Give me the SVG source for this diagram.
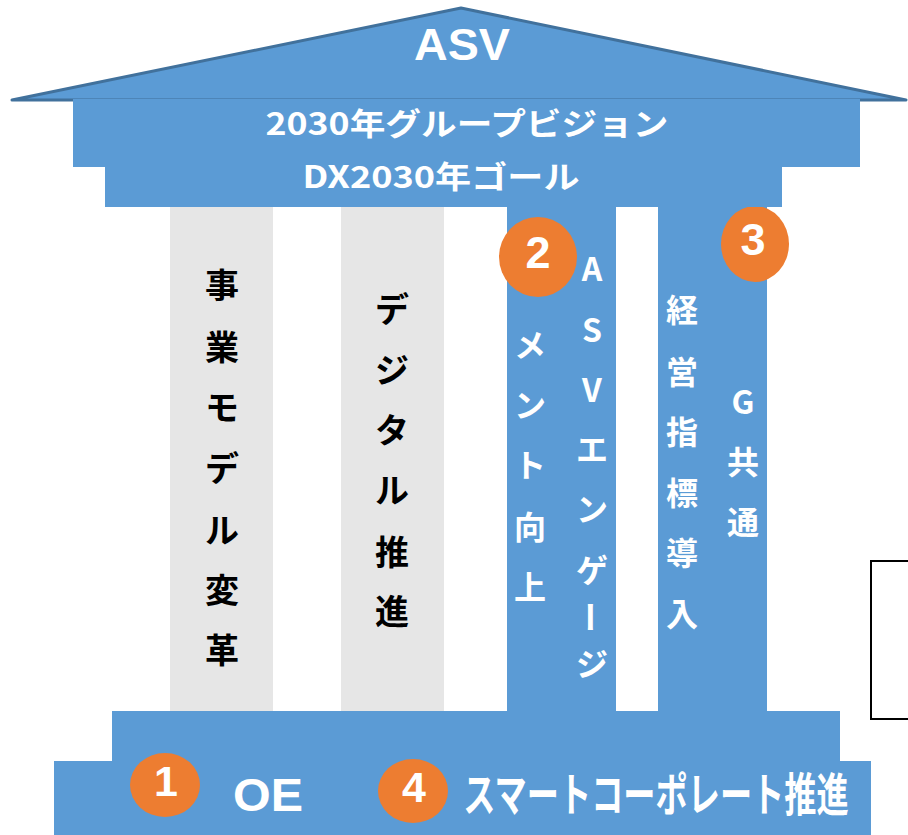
<svg xmlns="http://www.w3.org/2000/svg" width="908" height="835" viewBox="0 0 908 835">
<style>
.blue{fill:#5B9BD5}
.gray{fill:#E6E6E6}
.org{fill:#ED7D31}
.jp{font-family:"Noto Sans CJK JP","Noto Sans",sans-serif;font-weight:bold}
.lat{font-family:"Liberation Sans","Noto Sans",sans-serif;font-weight:bold}
.w{fill:#FFFFFF}
.k{fill:#000000}
.v{text-anchor:middle;dominant-baseline:central}
.c{text-anchor:middle}
</style>
<rect width="908" height="835" fill="#FFFFFF"/>
<g id="roof">
<polygon points="12,100 461,8 906,100" class="blue" stroke="#41719C" stroke-width="3" stroke-linejoin="round"/>
</g>
<g id="pillar1">
<rect x="170" y="205" width="103" height="510" class="gray"/>
<g class="jp k v" font-size="34">
<text x="222" y="283">事</text><text x="222" y="345">業</text><text x="222" y="405">モ</text><text x="222" y="466">デ</text><text x="222" y="528">ル</text><text x="222" y="588">変</text><text x="222" y="648">革</text>
</g>
</g>
<g id="pillar2">
<rect x="341" y="205" width="103" height="510" class="gray"/>
<g class="jp k v" font-size="34">
<text x="392" y="307">デ</text><text x="392" y="368">ジ</text><text x="392" y="428">タ</text><text x="392" y="488">ル</text><text x="392" y="550">推</text><text x="392" y="609">進</text>
</g>
</g>
<g id="pillar3">
<rect x="507" y="205" width="109" height="510" class="blue"/>
<g class="jp w v" font-size="32">
<text x="592" y="267">A</text><text x="592" y="328">S</text><text x="592" y="388">V</text><text x="592" y="447">エ</text><text x="592" y="507">ン</text><text x="592" y="568">ゲ</text><text transform="translate(592,617) rotate(90)">ー</text><text x="592" y="662">ジ</text>
<text x="530" y="343">メ</text><text x="530" y="403">ン</text><text x="530" y="463">ト</text><text x="530" y="525">向</text><text x="530" y="585">上</text>
</g>
</g>
<g id="pillar4">
<rect x="658" y="205" width="109" height="510" class="blue"/>
<g class="jp w v" font-size="32">
<text x="682" y="308">経</text><text x="682" y="370">営</text><text x="682" y="430">指</text><text x="682" y="491">標</text><text x="682" y="551">導</text><text x="682" y="612">入</text>
<text x="743" y="400">G</text><text x="743" y="460">共</text><text x="743" y="520">通</text>
</g>
</g>
<g id="badge3">
<ellipse cx="755" cy="244" rx="34" ry="38" class="org"/>
</g>
<g id="top">
<rect x="73" y="99" width="787" height="68" class="blue"/>
<rect x="105" y="166" width="677" height="41" class="blue"/>
<text x="462" y="60" class="lat w c" font-size="44" textLength="96" lengthAdjust="spacingAndGlyphs">ASV</text>
<text x="467" y="135" class="jp w c" font-size="31" textLength="403" lengthAdjust="spacingAndGlyphs">2030年グループビジョン</text>
<text x="441" y="188" class="jp w c" font-size="31" textLength="277" lengthAdjust="spacingAndGlyphs">DX2030年ゴール</text>
</g>
<g id="badge3-label">
<text x="753" y="255" class="lat w c" font-size="45">3</text>
</g>
<g id="badge2">
<ellipse cx="538" cy="257" rx="39" ry="40" class="org"/>
<text x="538" y="268" class="lat w c" font-size="45">2</text>
</g>
<g id="base">
<rect x="112" y="711" width="728" height="51" class="blue"/>
<rect x="54" y="761" width="817" height="74" class="blue"/>
<text x="268" y="811" class="lat w c" font-size="46" textLength="70" lengthAdjust="spacingAndGlyphs">OE</text>
<text transform="translate(656,811) scale(0.7,1)" class="jp w c" font-size="46">スマートコーポレート推進</text>
</g>
<g id="badge1">
<ellipse cx="165" cy="785" rx="35" ry="32" class="org"/>
<text x="166" y="796" class="lat w c" font-size="43">1</text>
</g>
<g id="badge4">
<ellipse cx="413" cy="791" rx="35" ry="32" class="org"/>
<text x="414" y="802" class="lat w c" font-size="43">4</text>
</g>
<g id="frame">
<rect x="871" y="561" width="60" height="158" fill="none" stroke="#000000" stroke-width="2"/>
</g>
<g id="connectors"/>
</svg>
